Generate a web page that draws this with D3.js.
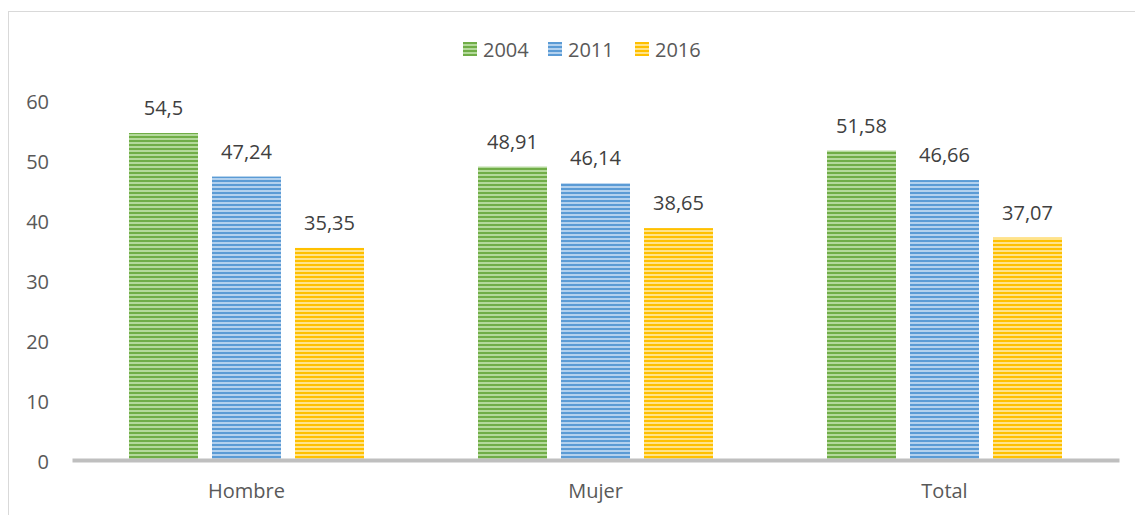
<!DOCTYPE html>
<html>
<head>
<meta charset="utf-8">
<script src="https://cdn.jsdelivr.net/npm/d3@7"></script>
<style>
  body { margin: 0; background: #fff; }
  text { font-family: "Open Sans", "Noto Sans", sans-serif; }
</style>
</head>
<body>
<div id="chart-area"></div>
<script>
// data
const categories = ["Hombre", "Mujer", "Total"]
const seriesNames = ["2004", "2011", "2016"]
const values2004 = [54.5, 48.91, 51.58]
const values2011 = [47.24, 46.14, 46.66]
const values2016 = [35.35, 38.65, 37.07]
const valueLabels2004 = ["54,5", "48,91", "51,58"]
const valueLabels2011 = ["47,24", "46,14", "46,66"]
const valueLabels2016 = ["35,35", "38,65", "37,07"]
const yTicks = [0, 10, 20, 30, 40, 50, 60]

const colors = { "2004": ["#70ad47", "#b4d99b"], "2011": ["#5b9bd5", "#b3d1ee"], "2016": ["#ffc000", "#ffe38a"] }

const series = [
    { name: "2004", values: values2004, labels: valueLabels2004 },
    { name: "2011", values: values2011, labels: valueLabels2011 },
    { name: "2016", values: values2016, labels: valueLabels2016 }
]

const svg = d3.select("#chart-area")
    .append("svg")
    .attr("width", 1135)
    .attr("height", 515)

// stripe patterns like the excel fill
const defs = svg.append("defs")
seriesNames.forEach(s => {
    const p = defs.append("pattern")
        .attr("id", "pat" + s)
        .attr("patternUnits", "userSpaceOnUse")
        .attr("width", 8)
        .attr("height", 4)
    p.append("rect").attr("width", 8).attr("height", 4).attr("fill", colors[s][1])
    p.append("rect").attr("width", 8).attr("height", 2).attr("fill", colors[s][0])
})

// chart frame
svg.append("rect")
    .attr("x", 8.5)
    .attr("y", 11.5)
    .attr("width", 1140)
    .attr("height", 520)
    .attr("fill", "none")
    .attr("stroke", "#d9d9d9")

const plotLeft = 72, plotRight = 1119, plotTop = 100, plotBottom = 460

const y = d3.scaleLinear()
    .domain([0, 60])
    .range([plotBottom, plotTop])

const x = d3.scaleBand()
    .domain(categories)
    .range([plotLeft, plotRight])

const xInner = d3.scaleBand()
    .domain(seriesNames)
    .range([57, x.bandwidth() - 57])
    .paddingInner(14 / 83)

// y axis labels only
const yAxisCall = d3.axisLeft(y)
    .tickValues(yTicks)
    .tickSize(0)
    .tickPadding(0)
const yAxis = svg.append("g")
    .attr("transform", `translate(49, 0)`)
    .call(yAxisCall)
yAxis.select(".domain").remove()
yAxis.selectAll("text")
    .attr("dy", "0.4em")
    .attr("font-size", 20)
    .attr("fill", "#595959")
    .attr("font-family", "'Open Sans', sans-serif")

// bars
const groups = svg.selectAll(".serie")
    .data(series)
    .enter().append("g")
    .attr("class", "serie")

groups.selectAll("rect")
    .data(s => s.values.map((v, i) => ({ name: s.name, cat: categories[i], v: v })))
    .enter().append("rect")
    .attr("x", d => x(d.cat) + xInner(d.name))
    .attr("y", d => y(d.v))
    .attr("width", xInner.bandwidth())
    .attr("height", d => plotBottom - y(d.v))
    .attr("fill", d => "url(#pat" + d.name + ")")

groups.selectAll("text")
    .data(s => s.values.map((v, i) => ({ name: s.name, cat: categories[i], v: v, label: s.labels[i] })))
    .enter().append("text")
    .attr("x", d => x(d.cat) + xInner(d.name) + xInner.bandwidth() / 2)
    .attr("y", d => y(d.v) - 18)
    .attr("text-anchor", "middle")
    .attr("font-size", 20)
    .attr("fill", "#404040")
    .text(d => d.label)

// x axis
const xAxisCall = d3.axisBottom(x)
    .tickSize(0)
const xAxis = svg.append("g")
    .attr("transform", `translate(0, ${plotBottom})`)
    .call(xAxisCall)
xAxis.select(".domain")
    .attr("stroke", "#bfbfbf")
    .attr("stroke-width", 4)
xAxis.selectAll("text")
    .attr("y", 38)
    .attr("dy", null)
    .attr("font-size", 20)
    .attr("fill", "#595959")
    .attr("font-family", "'Open Sans', sans-serif")

// legend
const legendX = [463, 548, 635]
const legend = svg.selectAll(".legend")
    .data(seriesNames)
    .enter().append("g")
    .attr("class", "legend")
    .attr("transform", (d, i) => `translate(${legendX[i]}, 42)`)
legend.append("rect")
    .attr("width", 14)
    .attr("height", 14)
    .attr("fill", d => "url(#pat" + d + ")")
legend.append("text")
    .attr("x", 20)
    .attr("y", 15)
    .attr("font-size", 20)
    .attr("fill", "#595959")
    .text(d => d)
</script>
</body>
</html>
